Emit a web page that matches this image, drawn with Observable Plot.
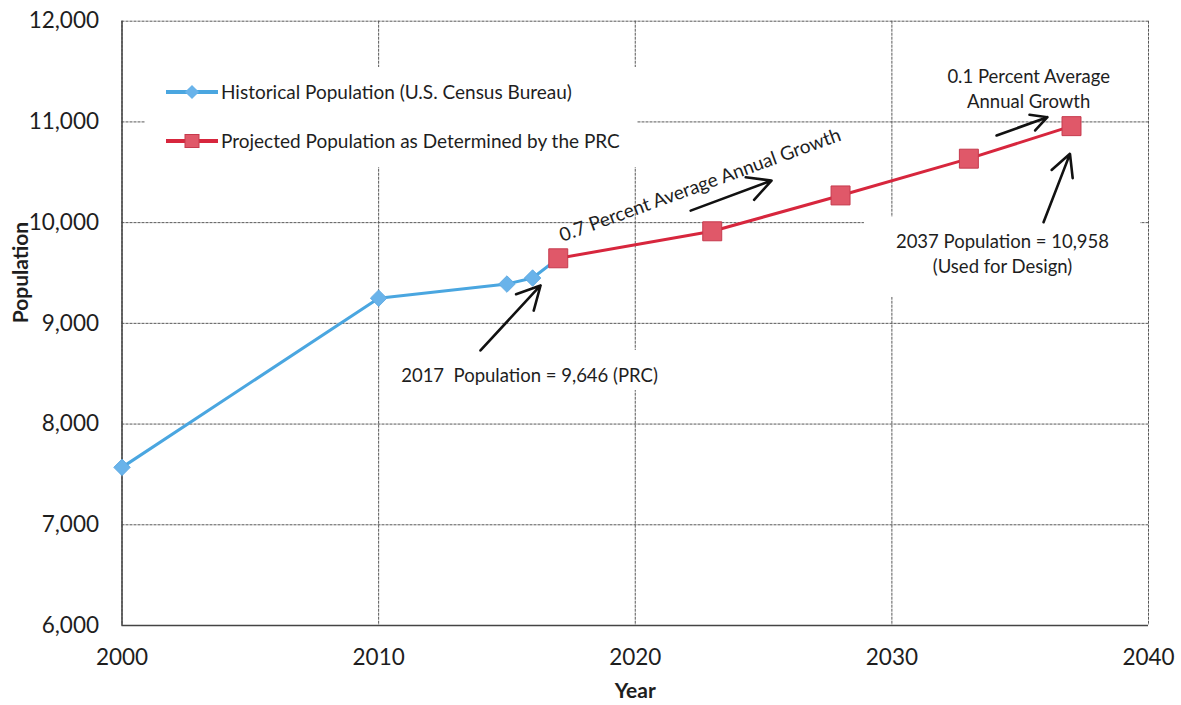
<!DOCTYPE html>
<html>
<head>
<meta charset="utf-8">
<script src="https://cdn.jsdelivr.net/npm/d3@7"></script>
<script src="https://cdn.jsdelivr.net/npm/@observablehq/plot@0.6"></script>
<style>
  body { margin: 0; background: #fff; font-family: Lato, "Open Sans", sans-serif; }
  #wrap { position: relative; width: 1181px; height: 705px; }
  .legend { position: absolute; left: 145px; top: 67px; width: 492px; height: 100px; background: #fff; }
  .legend .row { position: absolute; left: 21px; height: 24px; display: flex; align-items: center; font-size: 19px; color: #1e1e1e; white-space: nowrap; }
  .legend svg { margin-right: 3px; }
</style>
</head>
<body>
<div id="wrap"></div>
<script>
// Historical census counts
const histYears = [2000, 2010, 2015, 2016, 2017];
const histPop   = [7570, 9250, 9390, 9450, 9646];

// Projected population
const projYears = [2017, 2023, 2028, 2033, 2037];
const projPop   = [9646, 9914, 10270, 10635, 10958];

// Axis ticks
const xTicks = [2000, 2010, 2020, 2030, 2040];
const yTicks = [6000, 7000, 8000, 9000, 10000, 11000, 12000];

// Series names
const seriesNames = [
  "Historical Population (U.S. Census Bureau)",
  "Projected Population as Determined by the PRC"
];
const seriesColors = ["#4aa6e0", "#d7263d"];

// Callout texts, anchored in year / population units
const noteText = [
  "0.7 Percent Average Annual Growth",
  "0.1 Percent Average\nAnnual Growth",
  "2037 Population = 10,958\n(Used for Design)",
  "2017  Population = 9,646 (PRC)"
];
const noteX = [2022.5, 2035.33, 2034.31, 2015.88];
const noteY = [10390, 11342, 9699, 8502];
const noteRotate = [-20, 0, 0, 0];
const noteSize = [19, 18.5, 18.5, 18.5];

// Callout arrows (tail -> head)
const arrowX1 = [2013.97, 2022.16, 2034.08, 2035.91];
const arrowY1 = [8731, 10119, 10865, 10004];
const arrowX2 = [2016.31, 2025.31, 2036.06, 2036.94];
const arrowY2 = [9376, 10418, 11047, 10683];

// White panels behind the lower callouts
const panelX1 = [2010.46, 2028.93];
const panelX2 = [2021.18, 2039.69];
const panelY1 = [8731, 10051];
const panelY2 = [8333, 9257];

const hist = histYears.map((year, i) => ({year, pop: histPop[i]}));
const proj = projYears.map((year, i) => ({year, pop: projPop[i]}));
const notes = noteText.map((text, i) => ({text, x: noteX[i], y: noteY[i], rotate: noteRotate[i], size: noteSize[i]}));
const arrows = arrowX1.map((x1, i) => ({x1, y1: arrowY1[i], x2: arrowX2[i], y2: arrowY2[i]}));
const panels = panelX1.map((x1, i) => ({x1, x2: panelX2[i], y1: panelY1[i], y2: panelY2[i]}));

const gridStyle = {stroke: "#585858", strokeOpacity: 1, strokeWidth: 1, strokeDasharray: "3,1"};

const chart = Plot.plot({
  width: 1181,
  height: 705,
  marginLeft: 121.5,
  marginRight: 33,
  marginTop: 20.7,
  marginBottom: 80,
  style: {fontFamily: "Lato, 'Open Sans', sans-serif", color: "#1e1e1e", background: "#fff"},
  x: {domain: [2000, 2040], label: null},
  y: {domain: [6000, 12000], label: null},
  marks: [
    Plot.gridY(yTicks, gridStyle),
    Plot.gridX(xTicks, gridStyle),
    Plot.ruleX([2000], {stroke: "#444", strokeWidth: 1.5}),
    Plot.ruleY([6000], {stroke: "#444", strokeWidth: 1.5}),
    Plot.rect(panels, {x1: "x1", x2: "x2", y1: "y1", y2: "y2", fill: "white"}),
    Plot.axisX(xTicks, {tickSize: 0, tickPadding: 24, fontSize: 22.5, tickFormat: d => String(d), label: null}),
    Plot.axisY(yTicks, {tickSize: 0, tickPadding: 23, fontSize: 22.5, tickFormat: d3.format(","), label: null}),
    Plot.line(hist, {x: "year", y: "pop", stroke: seriesColors[0], strokeWidth: 3}),
    Plot.line(proj, {x: "year", y: "pop", stroke: seriesColors[1], strokeWidth: 3}),
    Plot.dot(hist, {x: "year", y: "pop", symbol: "square", rotate: 45, r: 6.6, fill: "#69b3ea", stroke: "#5aa6e0", strokeWidth: 0.8}),
    Plot.dot(proj, {x: "year", y: "pop", symbol: "square", r: 10.7, fill: "#e05869", stroke: "#c63a4d", strokeWidth: 1}),
    Plot.arrow(arrows, {x1: "x1", y1: "y1", x2: "x2", y2: "y2", stroke: "#111", strokeWidth: 2.6, headLength: 15, headAngle: 55}),
    Plot.text(notes, {x: "x", y: "y", text: "text", rotate: "rotate", fontSize: "size", fill: "#1e1e1e", lineHeight: 1.35}),
    Plot.text(["Year"], {frameAnchor: "bottom", dy: 72, text: d => d, fontSize: 21, fontWeight: "bold", fill: "#1e1e1e"}),
    Plot.text(["Population"], {frameAnchor: "left", dx: -101, rotate: -90, text: d => d, fontSize: 21, fontWeight: "bold", fill: "#1e1e1e"})
  ]
});

const wrap = document.getElementById("wrap");
wrap.appendChild(chart);

// Legend panel inside the plot area
const legend = document.createElement("div");
legend.className = "legend";
const swatches = [
  `<svg width="52" height="16"><line x1="0" y1="8" x2="52" y2="8" stroke="${seriesColors[0]}" stroke-width="4"/><rect x="21" y="3" width="10" height="10" fill="#69b3ea" transform="rotate(45 26 8)"/></svg>`,
  `<svg width="52" height="16"><line x1="0" y1="8" x2="52" y2="8" stroke="${seriesColors[1]}" stroke-width="4"/><rect x="19" y="1.5" width="14" height="13" fill="#e05869" stroke="#c63a4d"/></svg>`
];
const rowTops = [12.7, 61.7];
seriesNames.forEach((name, i) => {
  const row = document.createElement("div");
  row.className = "row";
  row.style.top = rowTops[i] + "px";
  row.innerHTML = swatches[i] + `<span>${name}</span>`;
  legend.appendChild(row);
});
wrap.appendChild(legend);
</script>
</body>
</html>
